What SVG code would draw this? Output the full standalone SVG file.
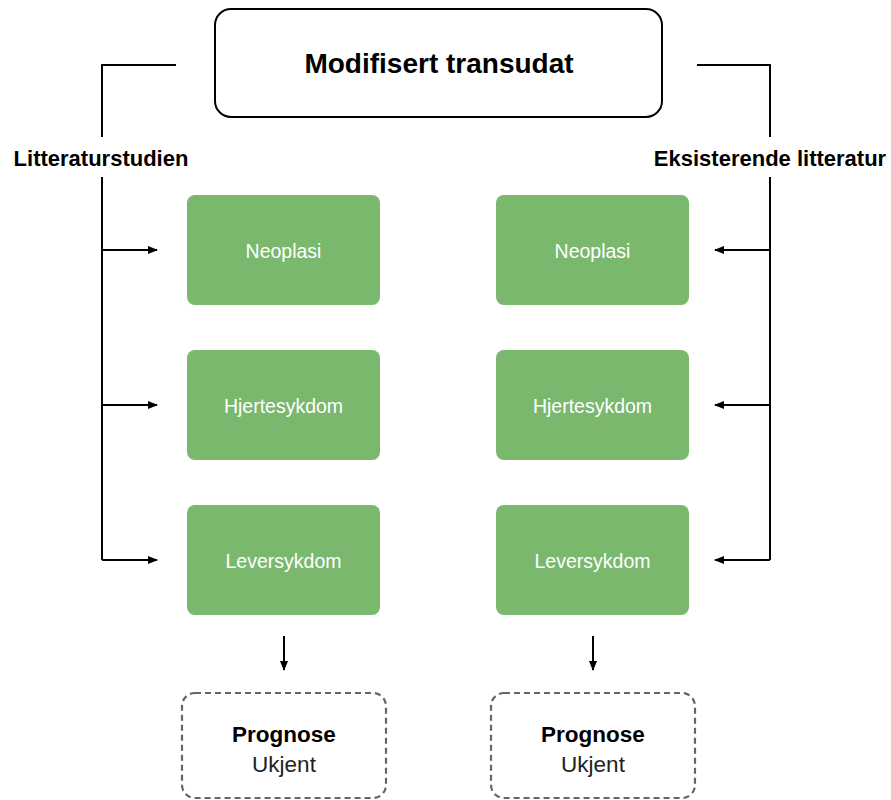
<svg xmlns="http://www.w3.org/2000/svg" width="891" height="800" viewBox="0 0 891 800">
<style>
text{font-family:"Liberation Sans",Arial,sans-serif;text-anchor:middle}
.title{font-size:28px;font-weight:bold;fill:#000}
.side{font-size:22px;font-weight:bold;fill:#000}
.g rect{fill:#7ab86e}
.g text{font-size:19.5px;fill:#fff}
.d rect{fill:#fff;stroke:#666;stroke-width:2.2;stroke-dasharray:6 4}
.pb{font-size:22.5px;font-weight:bold;fill:#000}
.pr{font-size:22.5px;fill:#222}
.c{fill:none;stroke:#000;stroke-width:2}
</style>
<defs>
<marker id="ah" viewBox="0 0 10 10" refX="9" refY="5" markerWidth="10" markerHeight="10" markerUnits="userSpaceOnUse" orient="auto">
<path d="M0,1 L10,5 L0,9 z" fill="#000"/>
</marker>
</defs>
<rect width="891" height="800" fill="#fff"/>
<g id="top">
<rect x="215" y="9" width="447" height="108" rx="16" fill="#fff" stroke="#000" stroke-width="2"/>
<text class="title" x="439" y="73">Modifisert transudat</text>
</g>
<g id="label-left"><text class="side" x="101" y="166">Litteraturstudien</text></g>
<g id="label-right"><text class="side" x="770" y="166">Eksisterende litteratur</text></g>
<g id="connectors">
<path class="c" d="M176,65 H102 V137"/>
<path class="c" d="M102,177 V560"/>
<path class="c" d="M697,65 H770 V137"/>
<path class="c" d="M770,177 V560"/>
<path class="c" d="M102,250 H157" marker-end="url(#ah)"/>
<path class="c" d="M102,405 H157" marker-end="url(#ah)"/>
<path class="c" d="M102,560 H157" marker-end="url(#ah)"/>
<path class="c" d="M770,250 H715" marker-end="url(#ah)"/>
<path class="c" d="M770,405 H715" marker-end="url(#ah)"/>
<path class="c" d="M770,560 H715" marker-end="url(#ah)"/>
<path class="c" d="M284,636 V670" marker-end="url(#ah)"/>
<path class="c" d="M593,636 V670" marker-end="url(#ah)"/>
</g>
<g id="l-neo" class="g"><rect x="187" y="195" width="193" height="110" rx="8"/><text x="283.5" y="258">Neoplasi</text></g>
<g id="l-hjerte" class="g"><rect x="187" y="350" width="193" height="110" rx="8"/><text x="283.5" y="413">Hjertesykdom</text></g>
<g id="l-lever" class="g"><rect x="187" y="505" width="193" height="110" rx="8"/><text x="283.5" y="568">Leversykdom</text></g>
<g id="r-neo" class="g"><rect x="496" y="195" width="193" height="110" rx="8"/><text x="592.5" y="258">Neoplasi</text></g>
<g id="r-hjerte" class="g"><rect x="496" y="350" width="193" height="110" rx="8"/><text x="592.5" y="413">Hjertesykdom</text></g>
<g id="r-lever" class="g"><rect x="496" y="505" width="193" height="110" rx="8"/><text x="592.5" y="568">Leversykdom</text></g>
<g id="l-prog" class="d"><rect x="182" y="693" width="204" height="105" rx="13"/><text class="pb" x="284" y="742">Prognose</text><text class="pr" x="284" y="772">Ukjent</text></g>
<g id="r-prog" class="d"><rect x="491" y="693" width="204" height="105" rx="13"/><text class="pb" x="593" y="742">Prognose</text><text class="pr" x="593" y="772">Ukjent</text></g>
</svg>
